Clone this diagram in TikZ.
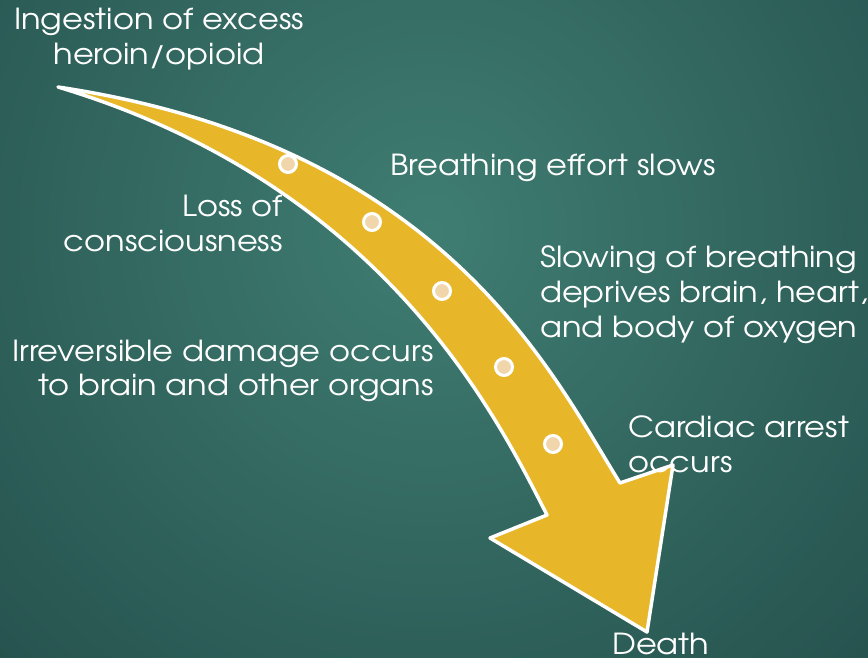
\documentclass[tikz,border=0pt]{standalone}
\usepackage{fontspec}
\setmainfont{TeX Gyre Adventor}[FakeStretch=1.105]
\definecolor{bgin}{HTML}{3F7D72}
\definecolor{bgout}{HTML}{26524E}
\definecolor{arrowyellow}{HTML}{E7B729}
\definecolor{dotbeige}{HTML}{F0D6AA}
\tikzset{
  lbl/.style={text=white, inner sep=0pt, font=\fontsize{29bp}{35bp}\selectfont},
  dot/.style={circle, fill=dotbeige, draw=white, line width=3pt, minimum size=17bp, inner sep=0pt},
  bigarrow/.style={draw=white, line width=3.5pt, fill=arrowyellow, line join=round}
}
\begin{document}
\begin{tikzpicture}[x=1bp, y=-1bp]
\useasboundingbox (0,0) rectangle (868,658);
\clip (0,0) rectangle (868,658);
\fill[bgout] (0,0) rectangle (868,658);
\shade[inner color=bgin, outer color=bgout] (430,230) circle (620);
% arrow
\draw[bigarrow] (58,87) .. controls (444,145) and (551,372) .. (620,483)
  -- (673,465) -- (647,632) -- (490,538) -- (547,515)
  .. controls (497,417) and (384,185) .. (58,87) -- cycle;
% dots
\node[dot] (d1) at (288,164) {};
\node[dot] (d2) at (372,222) {};
\node[dot] (d3) at (442,291) {};
\node[dot] (d4) at (504,367) {};
\node[dot] (d5) at (553,444) {};
% labels
\node[lbl, anchor=base] (t1a) at (159,30) {Ingestion of excess};
\node[lbl, anchor=base] (t1b) at (159,65) {heroin/opioid};
\node[lbl, anchor=base west] (t2) at (390,175) {Breathing effort slows};
\node[lbl, anchor=base east] (t3a) at (283,216) {Loss of};
\node[lbl, anchor=base east] (t3b) at (283,251) {consciousness};
\node[lbl, anchor=base west] (t4a) at (540,267) {Slowing of breathing};
\node[lbl, anchor=base west] (t4b) at (540,302) {deprives brain, heart,};
\node[lbl, anchor=base west] (t4c) at (540,337) {and body of oxygen};
\node[lbl, anchor=base east] (t5a) at (434,361) {Irreversible damage occurs};
\node[lbl, anchor=base east] (t5b) at (434,395) {to brain and other organs};
\node[lbl, anchor=base west] (t6a) at (628,437) {Cardiac arrest};
\node[lbl, anchor=base west] (t6b) at (628,472) {occurs};
\node[lbl, anchor=base west] (t7) at (612,654) {Death};
\end{tikzpicture}
\end{document}
